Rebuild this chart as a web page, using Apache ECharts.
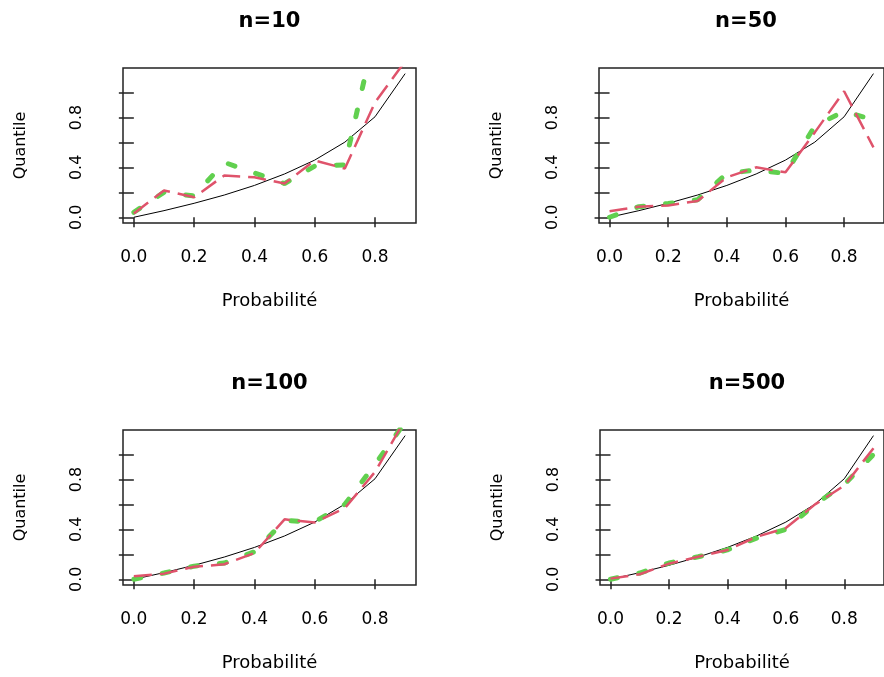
<!DOCTYPE html>
<html>
<head>
<meta charset="utf-8">
<script src="https://cdn.jsdelivr.net/npm/echarts@6/dist/echarts.min.js"></script>
<style>
html, body { margin: 0; background: #fff; }
#main { width: 884px; height: 677px; }
</style>
</head>
<body>
<div id="main"></div>
<script>
// probabilités et quantiles
var probs = [0, 0.1, 0.2, 0.3, 0.4, 0.5, 0.6, 0.7, 0.8, 0.9];
var theorique = [0, 0.053, 0.112, 0.178, 0.255, 0.347, 0.458, 0.602, 0.805, 1.151];
var titres = ['n=10', 'n=50', 'n=100', 'n=500'];

var rouge10 = [0.03, 0.215, 0.16, 0.335, 0.32, 0.27, 0.455, 0.39, 0.92, 1.25];
var vert10 = [0.04, 0.2, 0.17, 0.44, 0.355, 0.27, 0.41, 0.42, 1.48, 1.9];
var rouge50 = [0.048, 0.085, 0.095, 0.13, 0.32, 0.40, 0.36, 0.68, 1.01, 0.56];
var vert50 = [0.0, 0.085, 0.11, 0.14, 0.35, 0.38, 0.35, 0.73, 0.85, 0.78];
var rouge100 = [0.025, 0.045, 0.10, 0.12, 0.21, 0.48, 0.455, 0.57, 0.86, 1.28];
var vert100 = [0.0, 0.05, 0.105, 0.13, 0.22, 0.47, 0.46, 0.60, 0.92, 1.26];
var rouge500 = [0.005, 0.04, 0.125, 0.18, 0.235, 0.34, 0.41, 0.60, 0.75, 1.05];
var vert500 = [0.0, 0.05, 0.13, 0.18, 0.235, 0.33, 0.40, 0.60, 0.76, 1.0];

var xTicks = [0, 0.2, 0.4, 0.6, 0.8];
var yTicks = [0, 0.2, 0.4, 0.6, 0.8, 1.0];
var yLabels = [0, 0.4, 0.8];

var rouges = [rouge10, rouge50, rouge100, rouge500];
var verts = [vert10, vert50, vert100, vert500];

var police = 'DejaVu Sans';
var grids = [
    { left: 123, top: 68, width: 293, height: 155 },
    { left: 599, top: 68, width: 294, height: 155 },
    { left: 123, top: 430, width: 293, height: 155 },
    { left: 600, top: 430, width: 294, height: 155 }
];

function paires(ys) {
    return probs.map(function (p, i) { return [p, ys[i]]; });
}

var option = {
    backgroundColor: '#fff',
    animation: false,
    title: [],
    grid: [],
    xAxis: [],
    yAxis: [],
    series: []
};

grids.forEach(function (g, k) {
    option.grid.push({
        left: g.left, top: g.top, width: g.width, height: g.height,
        show: true, borderColor: '#222', borderWidth: 1.5, backgroundColor: 'transparent'
    });
    option.title.push({
        text: titres[k],
        left: g.left + g.width / 2,
        top: g.top - 57,
        textAlign: 'center',
        padding: 0,
        textStyle: { fontFamily: police, fontWeight: 'bold', fontSize: 21, color: '#000' }
    });
    option.xAxis.push({
        type: 'value', gridIndex: k, min: -0.036, max: 0.936,
        splitLine: { show: false },
        axisLine: { show: false },
        axisTick: { show: true, length: 10, customValues: xTicks, lineStyle: { color: '#222', width: 1.5 } },
        axisLabel: {
            customValues: xTicks, margin: 26,
            fontFamily: police, fontSize: 17, color: '#000',
            formatter: function (v) { return v.toFixed(1); }
        },
        name: 'Probabilité', nameLocation: 'middle', nameGap: 69,
        nameTextStyle: { fontFamily: police, fontSize: 18, color: '#000' }
    });
    option.yAxis.push({
        type: 'value', gridIndex: k, min: -0.046, max: 1.196,
        splitLine: { show: false },
        axisLine: { show: false },
        axisTick: { show: true, length: 15, customValues: yTicks, lineStyle: { color: '#222', width: 1.5 } },
        axisLabel: {
            customValues: yLabels, rotate: 90, margin: 38,
            fontFamily: police, fontSize: 16, color: '#000',
            formatter: function (v) { return v.toFixed(1); }
        },
        name: 'Quantile', nameLocation: 'middle', nameRotate: 90, nameGap: 94,
        nameTextStyle: { fontFamily: police, fontSize: 16, color: '#000' }
    });
    option.series.push({
        type: 'line', xAxisIndex: k, yAxisIndex: k, data: paires(theorique),
        symbol: 'none', silent: true,
        lineStyle: { color: '#000', width: 1 }
    });
    option.series.push({
        type: 'line', xAxisIndex: k, yAxisIndex: k, data: paires(verts[k]),
        symbol: 'none', silent: true,
        lineStyle: { color: '#61D04F', width: 5, type: [7, 22], cap: 'round' }
    });
    option.series.push({
        type: 'line', xAxisIndex: k, yAxisIndex: k, data: paires(rouges[k]),
        symbol: 'none', silent: true,
        lineStyle: { color: '#DF536B', width: 2.5, type: [18, 8] }
    });
});

var myChart = echarts.init(document.getElementById('main'));
myChart.setOption(option);
</script>
</body>
</html>
